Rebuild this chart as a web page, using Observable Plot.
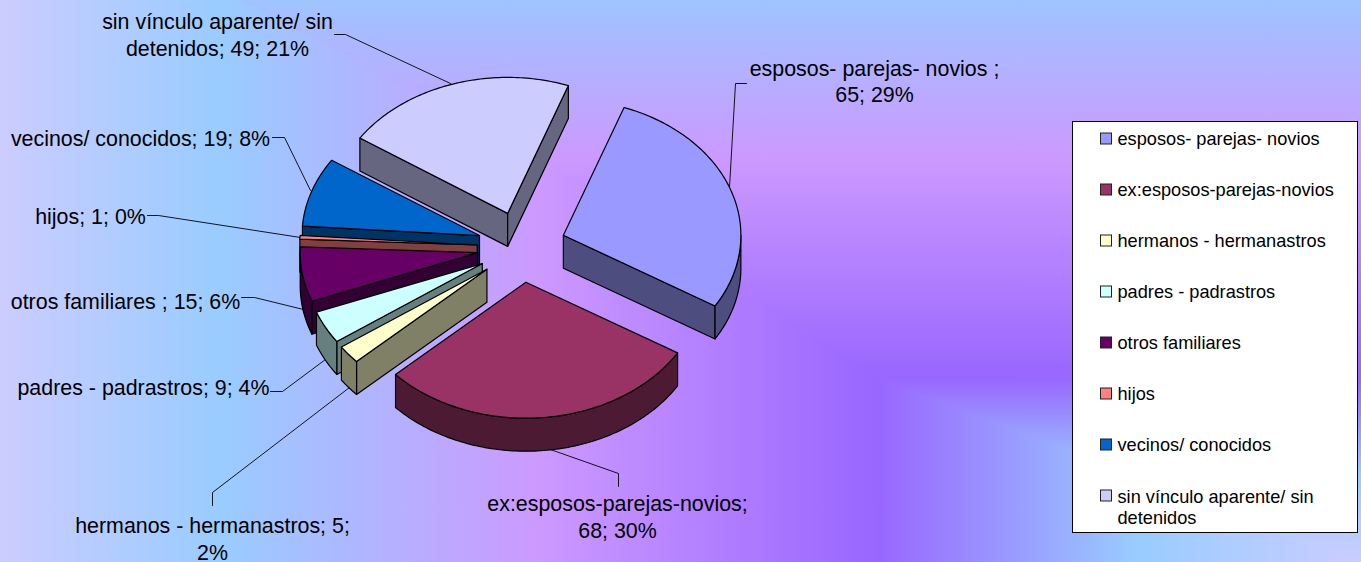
<!DOCTYPE html>
<html lang="es">
<head>
<meta charset="utf-8">
<script src="https://cdn.jsdelivr.net/npm/d3@7"></script>
<script src="https://cdn.jsdelivr.net/npm/@observablehq/plot@0.6"></script>
<style>
html,body{margin:0;padding:0;width:1361px;height:562px;overflow:hidden;background:#c09cff}
#chart{position:relative;width:1361px;height:562px;overflow:hidden}
.bg{position:absolute;inset:0}
#bgx{background:linear-gradient(to right,#ccccff 0,#99ccff 221px,#cc99ff 540px,#9966ff 877px,#99ccff 1137px,#ccccff 1361px)}
#bgy{background:linear-gradient(to bottom,#9fc4ff 0,#cc99ff 158px,#9966ff 378px,#99ccff 476px,#ccccff 562px);
clip-path:polygon(240px 0,540px 158px,877px 378px,1137px 476px,1361px 562px,1361px 0)}
#plot{position:absolute;left:0;top:0}
svg{display:block;background:transparent}
</style>
</head>
<body>
<div id="chart"><div class="bg" id="bgx"></div><div class="bg" id="bgy"></div><div id="plot"></div></div>
<script>
// ---- chart values ----
const categories = ["esposos- parejas- novios","ex:esposos-parejas-novios","hermanos - hermanastros","padres - padrastros","otros familiares","hijos","vecinos/ conocidos","sin vínculo aparente/ sin\ndetenidos"];
const values = [65,68,5,9,15,1,19,49];
const percents = [29,30,2,4,6,0,8,21];
const dataLabelNames = ["esposos- parejas- novios ;\n","ex:esposos-parejas-novios;\n","hermanos - hermanastros; ","padres - padrastros; ","otros familiares ; ","hijos; ","vecinos/ conocidos; ","sin vínculo aparente/ sin\ndetenidos; "];
const topColors = ["#9999FF","#993366","#FFFFCC","#CCFFFF","#660066","#FF8080","#0066CC","#CCCCFF"];
const wallColors = ["#4D4D80","#4D1A33","#808066","#668080","#330033","#804040","#003366","#666680"];

// ---- layout of the 3-D pie (pixels, degrees) ----
const W = 1361, H = 562;
const cx = 521, cy = 246.5, rx = 177.5, ry = 136, depth = 33, explodeX = 0.25, explodeY = 0.26, startDeg = 20;
const drawOrder = [7,6,5,4,3,2,0,1];
const rad = d => d*Math.PI/180;
const pie = d3.pie().sort(null).value(d=>d).startAngle(rad(startDeg)).endAngle(rad(startDeg)+2*Math.PI)(values);

const polys = [];
function addPoly(id, color, pts){ pts.forEach(([x,y])=>polys.push({id,color,x,y})); }
function apex(mid,z){ return [cx+explodeX*rx*Math.sin(mid), cy-explodeY*ry*Math.cos(mid)+z]; }
function point(mid,a,z){ const [x,y]=apex(mid,z); return [x+rx*Math.sin(a), y-ry*Math.cos(a)]; }
function arc(mid,a0,a1,z){ const n=Math.max(2,Math.ceil((a1-a0)/rad(1))); return d3.range(n+1).map(k=>point(mid,a0+(a1-a0)*k/n,z)); }

for(const i of drawOrder){
  const a0=pie[i].startAngle,a1=pie[i].endAngle,mid=(a0+a1)/2;
  if(Math.sin(a0)<0) addPoly(i+"s",wallColors[i],[apex(mid,0),point(mid,a0,0),point(mid,a0,depth),apex(mid,depth)]);
  if(Math.sin(a1)>0) addPoly(i+"e",wallColors[i],[apex(mid,0),point(mid,a1,0),point(mid,a1,depth),apex(mid,depth)]);
  const f0=Math.max(a0,rad(90)),f1=Math.min(a1,rad(270));
  if(f1>f0) addPoly(i+"a",wallColors[i],[...arc(mid,f0,f1,0),...arc(mid,f0,f1,depth).reverse()]);
  addPoly(i+"t",topColors[i],[apex(mid,0),...arc(mid,a0,a1,0)]);
}

// ---- data labels and their leader lines (pixels) ----
const labelAt = [[874,80],[617,515.5],[212,537.5],[143,386],[125,300],[90,215],[140,136.5],[217,33.5]];
const leaders = [
 [[746,83],[735,83],[729,187]],
 [[618,486],[618,473],[547,448]],
 [[212,505],[212,492],[349,387]],
 [[270,391],[282,391],[325,359]],
 [[241,297],[254,297],[303,309]],
 [[147,215],[158,215],[300,237]],
 [[272,137],[284,137],[310,190]],
 [[334,34],[345,34],[450,83]]
];
const labels = categories.map((c,i)=>{
  const tail = i===2 ? values[i]+";\n"+percents[i]+"%" : values[i]+"; "+percents[i]+"%";
  return {text:dataLabelNames[i]+tail,x:labelAt[i][0],y:labelAt[i][1]};
});
const leaderRows = leaders.flatMap((l,i)=>l.map(([x,y])=>({id:i,x,y})));

// ---- legend ----
const legendBox = [{x1:1072.5,x2:1357.5,y1:121.5,y2:532.5}];
const legendRows = categories.map((c,i)=>({text:c,color:topColors[i],yc:137.5+51*i+(i===7?12:0),sw:138.5+51*i}));

const chart = Plot.plot({
  width:W,height:H,margin:0,
  x:{domain:[0,W],range:[0,W],axis:null},
  y:{domain:[0,H],range:[0,H],axis:null},
  color:{type:"identity"},
  style:{background:"transparent",overflow:"visible"},
  marks:[
    Plot.line(leaderRows,{x:"x",y:"y",z:"id",stroke:"#000",strokeWidth:0.9}),
    Plot.line(polys,{x:"x",y:"y",z:"id",fill:"color",stroke:"#000",strokeWidth:1.2,curve:"linear-closed",strokeLinejoin:"round"}),
    Plot.text(labels,{x:"x",y:"y",text:"text",fontSize:21.4,lineHeight:1.25,fontFamily:"Liberation Sans",fill:"#000",textAnchor:"middle",lineAnchor:"middle"}),
    Plot.rect(legendBox,{x1:"x1",x2:"x2",y1:"y1",y2:"y2",fill:"#fff",stroke:"#000",strokeWidth:1}),
    Plot.rect(legendRows,{x1:()=>1100.5,x2:()=>1111.5,y1:d=>d.sw-5.5,y2:d=>d.sw+5.5,fill:"color",stroke:"#222",strokeWidth:1}),
    Plot.text(legendRows,{x:()=>1117,y:"yc",text:"text",fontSize:18.2,lineHeight:1.15,fontFamily:"Liberation Sans",fill:"#000",textAnchor:"start",lineAnchor:"middle"})
  ]
});
document.getElementById("plot").appendChild(chart);
</script>
</body>
</html>
